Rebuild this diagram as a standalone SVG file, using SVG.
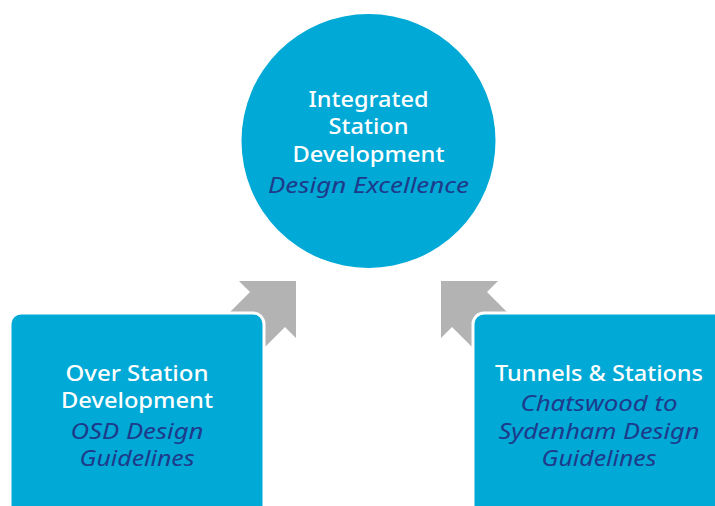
<svg xmlns="http://www.w3.org/2000/svg" width="715" height="506" viewBox="0 0 715 506">
<style>
.blue{fill:#00A9D6}
.box{fill:#00A9D6;stroke:#FFFFFF;stroke-width:3}
.arrow{fill:#B3B3B3}
.t{font-family:"Noto Sans","Open Sans","Liberation Sans",sans-serif;font-size:21px;text-anchor:middle}
.w{fill:#FFFFFF;font-weight:500}
.i{fill:#1E3A8A;font-style:italic}
</style>
<rect width="715" height="506" fill="#FFFFFF"/>
<g id="connectors">
<polygon class="arrow" points="296,281 296,338 285,327 245,367 230,382 215,347 210,332 250,292 239,281"/>
<polygon class="arrow" points="441,281 441,338 452,327 492,367 507,382 522,347 527,332 487,292 498,281"/>
</g>
<g id="node-center">
<circle class="blue" cx="368.5" cy="141" r="127"/>
<text class="t w" x="368.5" y="107" textLength="120" lengthAdjust="spacingAndGlyphs">Integrated</text>
<text class="t w" x="368.5" y="134" textLength="80" lengthAdjust="spacingAndGlyphs">Station</text>
<text class="t w" x="368.5" y="161.5" textLength="152" lengthAdjust="spacingAndGlyphs">Development</text>
<text class="t i" x="368.5" y="192.5" textLength="201" lengthAdjust="spacingAndGlyphs">Design Excellence</text>
</g>
<g id="node-left">
<rect class="box" x="10" y="313" width="254" height="220" rx="11"/>
<text class="t w" x="137" y="381" textLength="143" lengthAdjust="spacingAndGlyphs">Over Station</text>
<text class="t w" x="137" y="407.5" textLength="152" lengthAdjust="spacingAndGlyphs">Development</text>
<text class="t i" x="137" y="438.5" textLength="133" lengthAdjust="spacingAndGlyphs">OSD Design</text>
<text class="t i" x="137" y="466" textLength="115" lengthAdjust="spacingAndGlyphs">Guidelines</text>
</g>
<g id="node-right">
<rect class="box" x="473" y="313" width="254" height="220" rx="11"/>
<text class="t w" x="599" y="381" textLength="208" lengthAdjust="spacingAndGlyphs">Tunnels &amp; Stations</text>
<text class="t i" x="599" y="411" textLength="157" lengthAdjust="spacingAndGlyphs">Chatswood to</text>
<text class="t i" x="599" y="438.5" textLength="201" lengthAdjust="spacingAndGlyphs">Sydenham Design</text>
<text class="t i" x="599" y="466" textLength="115" lengthAdjust="spacingAndGlyphs">Guidelines</text>
</g>
</svg>
